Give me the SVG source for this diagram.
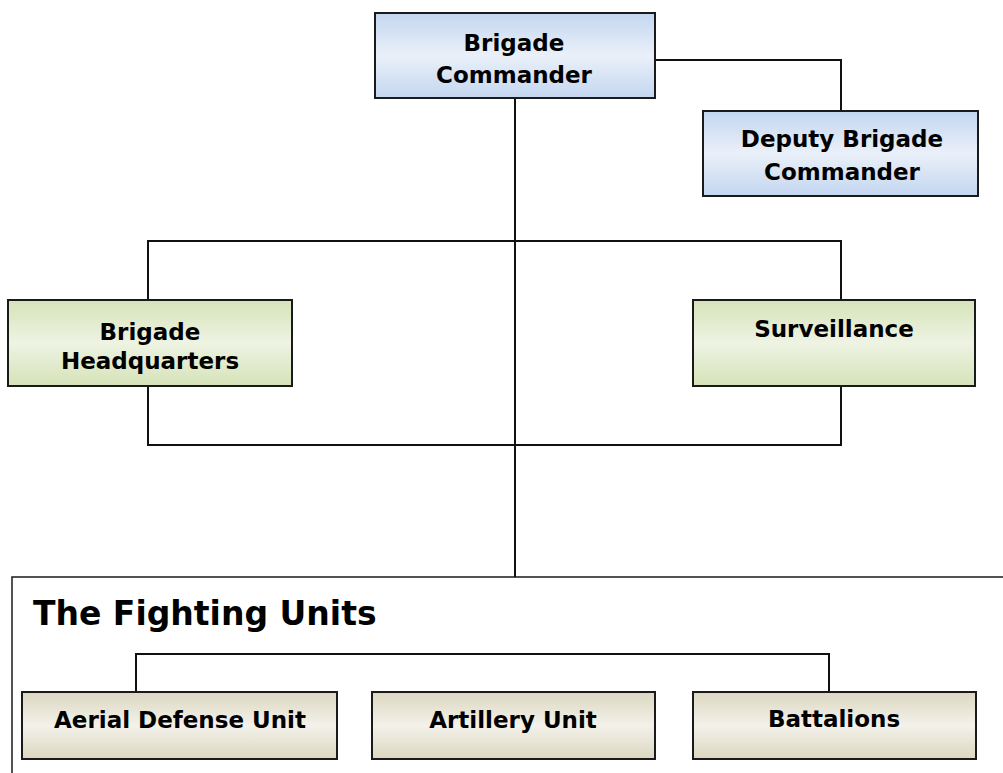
<svg xmlns="http://www.w3.org/2000/svg" width="1003" height="773" viewBox="0 0 1003 773">
<defs>
<linearGradient id="gBlue" x1="0" y1="0" x2="0" y2="1">
<stop offset="0" stop-color="#c3d6f0"/><stop offset="0.5" stop-color="#eaf0f9"/><stop offset="1" stop-color="#c3d6f0"/>
</linearGradient>
<linearGradient id="gGreen" x1="0" y1="0" x2="0" y2="1">
<stop offset="0" stop-color="#d5e3b8"/><stop offset="0.5" stop-color="#eef3e3"/><stop offset="1" stop-color="#d5e3b8"/>
</linearGradient>
<linearGradient id="gTan" x1="0" y1="0" x2="0" y2="1">
<stop offset="0" stop-color="#dcd7c1"/><stop offset="0.5" stop-color="#f3f1ea"/><stop offset="1" stop-color="#dcd7c1"/>
</linearGradient>
</defs>
<style>
.box{stroke:#1a1a1a;stroke-width:2}
.blue{fill:url(#gBlue)}
.green{fill:url(#gGreen)}
.tan{fill:url(#gTan)}
.t{font-family:"DejaVu Sans",Verdana,sans-serif;font-weight:bold;font-size:23px;fill:#000;text-anchor:middle}
.title{font-family:"DejaVu Sans",Verdana,sans-serif;font-weight:bold;font-size:33px;fill:#000}
.c{fill:none;stroke:#111;stroke-width:2}
</style>
<rect width="1003" height="773" fill="#fff"/>
<g id="fighting-units">
<rect x="12" y="577" width="1000" height="210" fill="#fff" stroke="#1a1a1a" stroke-width="1.5"/>
<text class="title" x="33" y="625">The Fighting Units</text>
</g>
<g id="connectors">
<path class="c" d="M515 98V577"/>
<path class="c" d="M655 60H841V111"/>
<path class="c" d="M148 300V241H841V300"/>
<path class="c" d="M148 386V445H841V386"/>
<path class="c" d="M136 692V654H829V692"/>
</g>
<g id="brigade-commander">
<rect class="box blue" x="375" y="13" width="280" height="85"/>
<text class="t" x="514" y="51">Brigade</text>
<text class="t" x="514" y="83">Commander</text>
</g>
<g id="deputy-brigade-commander">
<rect class="box blue" x="703" y="111" width="275" height="85"/>
<text class="t" x="842" y="147">Deputy Brigade</text>
<text class="t" x="842" y="180">Commander</text>
</g>
<g id="brigade-headquarters">
<rect class="box green" x="8" y="300" width="284" height="86"/>
<text class="t" x="150" y="340">Brigade</text>
<text class="t" x="150" y="369">Headquarters</text>
</g>
<g id="surveillance">
<rect class="box green" x="693" y="300" width="282" height="86"/>
<text class="t" x="834" y="337">Surveillance</text>
</g>
<g id="aerial-defense-unit">
<rect class="box tan" x="22" y="692" width="315" height="67"/>
<text class="t" x="180" y="728">Aerial Defense Unit</text>
</g>
<g id="artillery-unit">
<rect class="box tan" x="372" y="692" width="283" height="67"/>
<text class="t" x="513" y="728">Artillery Unit</text>
</g>
<g id="battalions">
<rect class="box tan" x="693" y="692" width="283" height="67"/>
<text class="t" x="834" y="727">Battalions</text>
</g>
</svg>
